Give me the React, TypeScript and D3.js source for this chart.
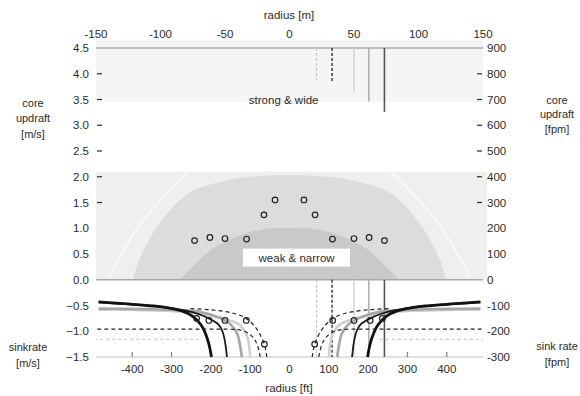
import { useEffect, useRef } from "react";
import * as d3 from "d3";

// axis ticks
const meterTicks = [-150, -100, -50, 0, 50, 100, 150];
const feetTicks = [-400, -300, -200, -100, 0, 100, 200, 300, 400];
const msTicks = [4.5, 4.0, 3.5, 3.0, 2.5, 2.0, 1.5, 1.0, 0.5, 0.0, -0.5, -1.0, -1.5];
const msTickMarks = [4.0, 3.5, 3.0, 2.5, 2.0, 1.5];
const fpmTicks = [900, 800, 700, 600, 500, 400, 300, 200, 100, 0, -100, -200, -300];
const fpmTickMarks = [800, 700, 600, 500, 400, 300];
const feetTickMarks = [-400, -300, 300, 400];

// updraft profiles, half width [radius m, updraft m/s], mirrored
const wideDome: [number, number][] = [
  [0, 2.03], [20, 2.02], [40, 1.97], [60, 1.86], [75, 1.73], [85, 1.55], [95, 1.28],
  [104, 0.98], [111, 0.68], [117, 0.36], [121.5, 0],
];
const narrowDome: [number, number][] = [
  [0, 1.01], [15, 1.0], [30, 0.93], [40, 0.85], [50, 0.74], [60, 0.6], [69, 0.4],
  [77, 0.2], [85, 0],
];
const faintDome: [number, number][] = [
  [0, 2.9], [40, 2.75], [60, 2.5], [80, 2.07], [100, 1.55], [115, 1.1], [122, 0.85],
  [130, 0.5], [136, 0.25], [140, 0],
];

// climb points marked on the domes and on the sink curves
const updraftPoints: [number, number][] = [
  [11.2, 1.55], [19.8, 1.26], [33.3, 0.79], [50, 0.8], [61.7, 0.82], [73.6, 0.76],
];
const sinkPoints: [number, number][] = [
  [19.5, -1.25], [33.5, -0.79], [50, -0.79], [62.5, -0.79], [72, -0.75],
];

// glider sink rate vs circling radius [radius m, sink m/s]
const sinkBlackThick: [number, number][] = [
  [60.5, -1.5], [62, -1.3], [64, -1.12], [68.5, -0.88], [75, -0.71], [84, -0.6],
  [95, -0.54], [105, -0.51], [125, -0.47], [148, -0.43],
];
const sinkBlackThin: [number, number][] = [
  [48.5, -1.5], [50, -1.2], [52, -1.0], [55, -0.87], [61, -0.77], [70, -0.67],
  [80, -0.6], [95, -0.54], [110, -0.5], [130, -0.47], [148, -0.44],
];
const sinkMidGray: [number, number][] = [
  [37, -1.5], [38.5, -1.25], [40.5, -1.05], [46, -0.86], [56, -0.72], [68, -0.63],
  [85, -0.59], [110, -0.57], [148, -0.56],
];
const sinkLightGray: [number, number][] = [
  [30.5, -1.5], [31.5, -1.25], [33.5, -1.05], [39.5, -0.86], [50, -0.76], [63, -0.69],
  [80, -0.63], [100, -0.6], [125, -0.58], [148, -0.58],
];
const sinkDashed: [number, number][] = [
  [17.6, -1.5], [19.4, -1.26], [24, -1.01], [29, -0.85], [35.7, -0.72], [47, -0.63],
  [62.8, -0.58], [78, -0.56],
];
const sinkDashed2: [number, number][] = [
  [22.7, -1.5], [24.5, -1.3], [26.6, -1.18], [29, -1.1], [31.8, -1.04], [35, -1.0],
  [40, -0.97], [60, -0.96], [150, -0.96],
];
const sinkDotted: [number, number][] = [[70, -1.16], [150, -1.16]];

// thermal core radii (right side only) and where their marker lines end
const coreRadii = [21, 33, 50, 61.5, 73.6];
const coreTopEnds = [3.88, 3.84, 3.65, 3.46, 3.26];
const coreStyles = [
  { stroke: "#c8c8c8", dash: "3,2", width: 1.3 },
  { stroke: "#222", dash: "3,2", width: 1.3 },
  { stroke: "#d6d6d6", dash: null, width: 1.6 },
  { stroke: "#b0b0b0", dash: null, width: 1.6 },
  { stroke: "#555", dash: null, width: 1.6 },
];

const mirror = (pts: [number, number][]) =>
  [...pts.filter((p) => p[0] > 0).map(([r, v]) => [-r, v] as [number, number]).reverse(), ...pts];

export default function App() {
  const svgRef = useRef<SVGSVGElement | null>(null);

  useEffect(() => {
    const width = 580;
    const height = 396;
    const font = "'Liberation Sans', Arial, sans-serif";
    const textColor = "#2b2b2b";

    const x = d3.scaleLinear().domain([-150, 150]).range([96, 483]);
    const xFt = d3.scaleLinear().domain([-150 / 0.3048, 150 / 0.3048]).range([96, 483]);
    const y = d3.scaleLinear().domain([-1.5, 4.5]).range([357, 48]);
    const yFpm = d3.scaleLinear().domain([-300, 900]).range([357, 48]);

    const svg = d3
      .select(svgRef.current)
      .attr("width", width)
      .attr("height", height)
      .html("");

    svg.append("rect").attr("width", width).attr("height", height).attr("fill", "white");

    // background panels
    svg
      .append("rect")
      .attr("x", x(-150))
      .attr("y", y(4.66))
      .attr("width", x(150) - x(-150))
      .attr("height", y(3.45) - y(4.66))
      .attr("fill", "#f5f5f5");
    svg
      .append("rect")
      .attr("x", x(-150))
      .attr("y", y(2.1))
      .attr("width", x(150) - x(-150) + 4)
      .attr("height", y(0) - y(2.1))
      .attr("fill", "#efefef");

    svg
      .append("clipPath")
      .attr("id", "midClip")
      .append("rect")
      .attr("x", x(-150))
      .attr("y", y(2.1))
      .attr("width", x(150) - x(-150) + 4)
      .attr("height", y(0) - y(2.1));

    const line = d3
      .line<[number, number]>()
      .x((d) => x(d[0]))
      .y((d) => y(d[1]))
      .curve(d3.curveCatmullRom.alpha(0.5));
    const area = d3
      .area<[number, number]>()
      .x((d) => x(d[0]))
      .y0(y(0))
      .y1((d) => y(d[1]))
      .curve(d3.curveCatmullRom.alpha(0.5));

    svg
      .append("path")
      .attr("d", line(mirror(faintDome)))
      .attr("fill", "none")
      .attr("stroke", "#f8f8f8")
      .attr("stroke-width", 2)
      .attr("clip-path", "url(#midClip)");
    svg.append("path").attr("d", area(mirror(wideDome))).attr("fill", "#dcdcdc");
    svg.append("path").attr("d", area(mirror(narrowDome))).attr("fill", "#c9c9c9");

    // frame lines
    [4.5, 0].forEach((v) => {
      svg
        .append("line")
        .attr("x1", x(-150))
        .attr("x2", x(150))
        .attr("y1", y(v))
        .attr("y2", y(v))
        .attr("stroke", "#a8a8a8")
        .attr("stroke-width", 1.3);
    });
    svg
      .append("line")
      .attr("x1", x(-150))
      .attr("x2", x(150))
      .attr("y1", y(-1.5))
      .attr("y2", y(-1.5))
      .attr("stroke", "#c4c4c4")
      .attr("stroke-width", 1.2);

    // thermal core markers
    coreRadii.forEach((r, i) => {
      const s = coreStyles[i];
      [
        [4.5, coreTopEnds[i]],
        [0, -1.5],
      ].forEach(([a, b]) => {
        svg
          .append("line")
          .attr("x1", x(r))
          .attr("x2", x(r))
          .attr("y1", y(a))
          .attr("y2", y(b))
          .attr("stroke", s.stroke)
          .attr("stroke-width", s.width)
          .attr("stroke-dasharray", s.dash);
      });
    });

    // ft ticks on sink baseline
    feetTickMarks.forEach((f) => {
      svg
        .append("line")
        .attr("x1", xFt(f))
        .attr("x2", xFt(f))
        .attr("y1", y(-1.5))
        .attr("y2", y(-1.5) - 5)
        .attr("stroke", "#888")
        .attr("stroke-width", 1.3);
    });

    // sink curves, both sides
    const sinkSeries = [
      { data: sinkDotted, stroke: "#d0d0d0", width: 1.3, dash: "3,3" },
      { data: sinkLightGray, stroke: "#cfcfcf", width: 2.6, dash: null },
      { data: sinkMidGray, stroke: "#a6a6a6", width: 2.6, dash: null },
      { data: sinkBlackThin, stroke: "#1a1a1a", width: 1.8, dash: null },
      { data: sinkBlackThick, stroke: "#111", width: 2.8, dash: null },
      { data: sinkDashed, stroke: "#222", width: 1.2, dash: "4,3" },
      { data: sinkDashed2, stroke: "#222", width: 1.2, dash: "4,3" },
    ];
    sinkSeries.forEach((s) => {
      [1, -1].forEach((side) => {
        const pts = s.data.map(([r, v]) => [side * r, v] as [number, number]);
        svg
          .append("path")
          .attr("d", line(pts))
          .attr("fill", "none")
          .attr("stroke", s.stroke)
          .attr("stroke-width", s.width)
          .attr("stroke-dasharray", s.dash);
      });
    });

    // markers
    svg
      .append("g")
      .selectAll("circle")
      .data([...mirror(updraftPoints), ...mirror(sinkPoints)])
      .join("circle")
      .attr("cx", (d) => x(d[0]))
      .attr("cy", (d) => y(d[1]))
      .attr("r", 2.8)
      .attr("fill", "none")
      .attr("stroke", "#222")
      .attr("stroke-width", 1.2);

    const text = (tx: number, ty: number, s: string, anchor = "middle", size = 11.5) =>
      svg
        .append("text")
        .attr("x", tx)
        .attr("y", ty)
        .attr("text-anchor", anchor)
        .attr("dy", "0.35em")
        .attr("font-family", font)
        .attr("font-size", size)
        .attr("fill", textColor)
        .text(s);

    // panel labels
    text(x(-4.5), y(3.5), "strong & wide");
    svg
      .append("rect")
      .attr("x", 243)
      .attr("y", y(0.43) - 9)
      .attr("width", 107)
      .attr("height", 18)
      .attr("fill", "white");
    text(x(5.5), y(0.43), "weak & narrow");

    // left axis
    msTicks.forEach((v) => text(89, y(v), d3.format(".1f")(v), "end"));
    msTickMarks.forEach((v) => {
      svg
        .append("line")
        .attr("x1", 97)
        .attr("x2", 102)
        .attr("y1", y(v))
        .attr("y2", y(v))
        .attr("stroke", textColor)
        .attr("stroke-width", 1.2);
    });

    // right axis
    fpmTicks.forEach((v) => text(487, yFpm(v), String(v), "start"));
    fpmTickMarks.forEach((v) => {
      svg
        .append("line")
        .attr("x1", 477)
        .attr("x2", 482)
        .attr("y1", yFpm(v))
        .attr("y2", yFpm(v))
        .attr("stroke", textColor)
        .attr("stroke-width", 1.2);
    });

    // top and bottom axes
    meterTicks.forEach((m) => text(x(m), 34, String(m)));
    feetTicks.forEach((f) => text(xFt(f), 369, String(f)));
    text(289, 15, "radius [m]");
    text(289, 388, "radius [ft]");

    // axis titles
    ["core", "updraft", "[m/s]"].forEach((s, i) => text(33, 103 + i * 15.5, s, "middle", 11));
    ["core", "updraft", "[fpm]"].forEach((s, i) => text(557, 100 + i * 14.5, s, "middle", 11));
    ["sinkrate", "[m/s]"].forEach((s, i) => text(28, 347 + i * 16.5, s, "middle", 11));
    ["sink rate", "[fpm]"].forEach((s, i) => text(557, 346 + i * 16.5, s, "middle", 11));
  }, []);

  return (
    <div style={{ position: "absolute", left: 0, top: 0 }}>
      <svg ref={svgRef}></svg>
    </div>
  );
}
